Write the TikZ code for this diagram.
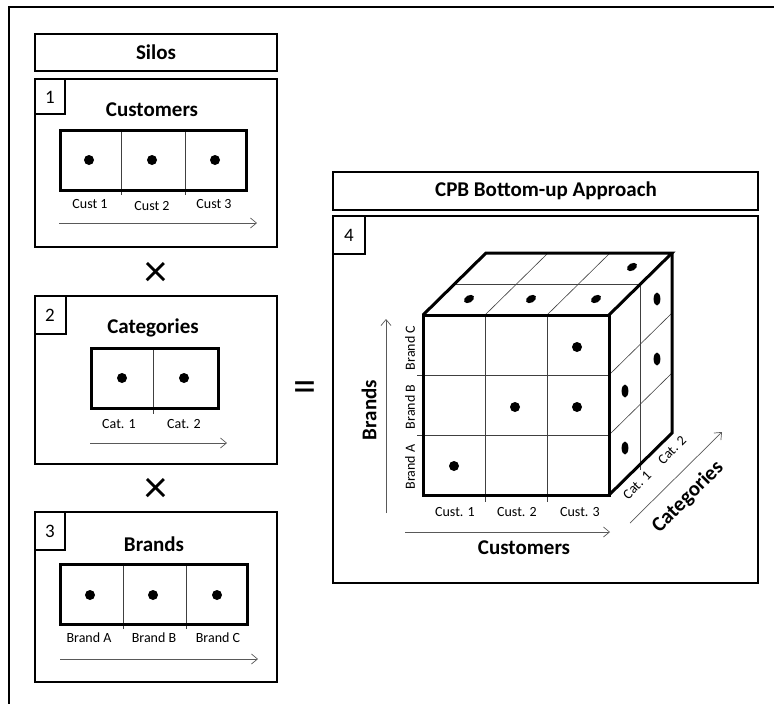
\documentclass[tikz,border=0pt]{standalone}
\usepackage{fontspec}
\setmainfont{Carlito}
\usetikzlibrary{arrows.meta}
\begin{document}
\begin{tikzpicture}[x=1pt,y=-1pt,
  frame/.style={draw,line width=1.6pt},
  thickbox/.style={draw,line width=3pt},
  gridline/.style={draw=black!75,line width=0.6pt},
  axis/.style={draw=black!65,line width=0.7pt,-{Straight Barb[length=6pt,width=10pt]}},
  title/.style={font=\bfseries\fontsize{21}{23}\selectfont},
  lbl/.style={font=\fontsize{14}{16}\selectfont},
  num/.style={font=\fontsize{19}{21}\selectfont},
  op/.style={font=\fontsize{46}{48}\selectfont}]
\useasboundingbox (0,0) rectangle (774,704);
% outer frame (cropped)
\draw[line width=1.5pt] (9,704) -- (9,7) -- (774,7);

% ---- Silos header
\draw[frame] (35,34) rectangle (277,71);
\node[title] (silos) at (156,52) {Silos};

% ---- Box 1 Customers
\draw[frame] (35,79) rectangle (277,247);
\draw[frame] (35,79) rectangle (65,114);
\node[num] (n1) at (50,97) {1};
\node[title] (cust) at (152,110) {Customers};
\draw[gridline] (121,130) -- (121,195);
\draw[gridline] (185,130) -- (185,195);
\draw[thickbox] (60,130) rectangle (246,190);
\fill (89,160) circle (5pt) (152,160) circle (5pt) (215,160) circle (5pt);
\node[lbl] (c1) at (90,204) {Cust 1};
\node[lbl] (c2) at (152,206) {Cust 2};
\node[lbl] (c3) at (214,204) {Cust 3};
\coordinate (a1s) at (59,223);
\coordinate (a1e) at (257,223);
\draw[axis] (a1s) -- (a1e);

\node[op] (x1) at (156,274) {×};

% ---- Box 2 Categories
\draw[frame] (35,296) rectangle (277,464);
\draw[frame] (35,296) rectangle (66,334);
\node[num] (n2) at (50,315) {2};
\node[title] (cat) at (153,328) {Categories};
\draw[gridline] (153,348) -- (153,414);
\draw[thickbox] (91,348) rectangle (218,408);
\fill (122,378) circle (5pt) (184,378) circle (5pt);
\node[lbl] (k1) at (119,424) {Cat. 1};
\node[lbl] (k2) at (184,424) {Cat. 2};
\coordinate (a2s) at (90,443);
\coordinate (a2e) at (227,443);
\draw[axis] (a2s) -- (a2e);

\node[op] (x2) at (156,490) {×};

% ---- Box 3 Brands
\draw[frame] (35,512) rectangle (277,682);
\draw[frame] (35,512) rectangle (65,550);
\node[num] (n3) at (50,531) {3};
\node[title] (br) at (154,544) {Brands};
\draw[gridline] (123,564) -- (123,629);
\draw[gridline] (186,564) -- (186,629);
\draw[thickbox] (60,564) rectangle (247,624);
\fill (90,595) circle (5pt) (153,595) circle (5pt) (217,595) circle (5pt);
\node[lbl] (b1) at (89,638) {Brand A};
\node[lbl] (b2) at (154,638) {Brand B};
\node[lbl] (b3) at (218,638) {Brand C};
\coordinate (a3s) at (60,659);
\coordinate (a3e) at (258,659);
\draw[axis] (a3s) -- (a3e);

\node[op] (eq) at (305,392) {=};

% ---- CPB
\draw[frame] (333,172) rectangle (758,210);
\node[title] (cpb) at (546,191) {CPB Bottom-up Approach};
\draw[frame] (333,216) rectangle (758,583);
\draw[frame] (333,216) rectangle (365,254);
\node[num] (n4) at (349,235) {4};

% cube grid lines
\draw[gridline] (485,315) -- (485,502);
\draw[gridline] (547,315) -- (547,502);
\draw[gridline] (417,435) -- (609,435);
\draw[gridline] (417,375) -- (609,375);
\draw[gridline] (454.5,284) -- (640.5,284);
\draw[gridline] (485,315) -- (548,253);
\draw[gridline] (547,315) -- (610,253);
\draw[gridline] (640.5,284) -- (640.5,470);
\draw[gridline] (609,435) -- (672,373);
\draw[gridline] (609,375) -- (672,313);
% cube outline
\draw[thickbox,line join=miter] (423,315) rectangle (609,495);
\draw[thickbox,line join=miter] (423,315) -- (486,253) -- (672,253) -- (609,315);
\draw[thickbox,line join=miter] (672,253) -- (672,433) -- (609,495);
% dots
\fill (454,466) circle (5pt) (515,407) circle (5pt) (577,407) circle (5pt) (577,347) circle (5pt);
\foreach \p in {(469,299),(531,299),(596,299),(632,267)}
  \fill[rotate around={30:\p}] \p ellipse (5.5pt and 3.6pt);
\foreach \p in {(657,299),(657,359),(625,391),(625,448)}
  \fill \p ellipse (3.4pt and 6.5pt);
% cube labels
\node[lbl] (cc1) at (455,512) {Cust. 1};
\node[lbl] (cc2) at (517,512) {Cust. 2};
\node[lbl] (cc3) at (580,512) {Cust. 3};
\coordinate (acs) at (405,532);
\coordinate (ace) at (610,532);
\draw[axis] (acs) -- (ace);
\node[title] (custax) at (524,548) {Customers};
\node[lbl,rotate=90] (ba) at (410,467) {Brand A};
\node[lbl,rotate=90] (bb) at (410,407) {Brand B};
\node[lbl,rotate=90] (bc) at (410,348) {Brand C};
\coordinate (abs) at (386,513);
\coordinate (abe) at (386,319);
\draw[axis] (abs) -- (abe);
\node[title,rotate=90] (brax) at (369,410) {Brands};
\node[lbl,rotate=45] (ka) at (637,485) {Cat. 1};
\node[lbl,rotate=45] (kb) at (672,450) {Cat. 2};
\coordinate (aks) at (630,523);
\coordinate (ake) at (722,432);
\draw[axis] (aks) -- (ake);
\node[title,rotate=45] (catax) at (688,497) {Categories};
\end{tikzpicture}
\end{document}
